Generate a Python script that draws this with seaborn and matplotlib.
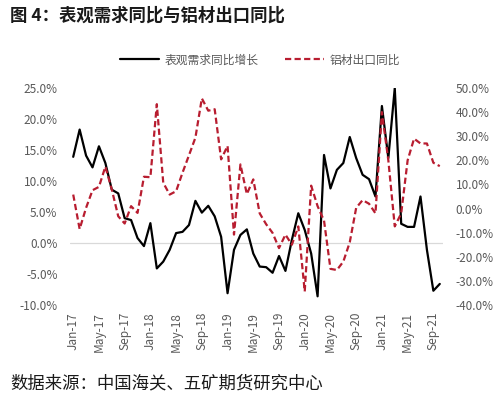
import numpy as np
import pandas as pd
import matplotlib
matplotlib.use("Agg")
import matplotlib.pyplot as plt
import seaborn as sns
from matplotlib.ticker import FuncFormatter, FixedLocator

# 月份：2017年1月 - 2021年10月
months = pd.date_range("2017-01-01", "2021-10-01", freq="MS").strftime("%b-%y").tolist()

# 表观需求同比增长 (%)，左轴
demand_yoy = [13.9, 18.3, 14.1, 12.2, 15.6, 12.9, 8.6, 8.0, 4.0, 3.7,
              0.8, -0.5, 3.2, -4.1, -3.0, -1.1, 1.6, 1.8, 2.9, 6.8,
              4.9, 6.0, 4.3, 1.0, -8.1, -1.1, 1.3, 2.2, -1.7, -3.8,
              -3.9, -4.8, -2.1, -4.5, 0.5, 4.8, 2.1, -1.7, -8.6, 14.2,
              8.8, 11.8, 12.9, 17.1, 13.7, 11.0, 10.3, 7.5, 22.1, 13.7,
              25.0, 3.1, 2.6, 2.6, 7.5, -1.1, -7.7, -6.6]

# 铝材出口同比 (%)，右轴
export_yoy = [5.8, -8.5, 0.3, 7.6, 9.0, 17.4, 7.9, -3.2, -6.2, 1.0,
              -1.8, 13.2, 13.0, 43.3, 10.7, 5.8, 7.2, 14.9, 22.1, 29.4,
              45.7, 40.6, 41.2, 20.4, 26.0, -10.8, 18.3, 6.0, 12.1, -2.0,
              -6.5, -10.1, -16.4, -10.8, -15.0, -7.4, -34.4, 9.5, 1.0, -5.0,
              -25.0, -25.5, -22.0, -14.0, 0.3, 3.5, 2.0, -2.0, 40.0, 20.0,
              -7.4, -2.0, 20.0, 29.0, 27.0, 27.0, 19.0, 17.6]

left_ticks = [-10, -5, 0, 5, 10, 15, 20, 25]
right_ticks = [-40, -30, -20, -10, 0, 10, 20, 30, 40, 50]

df = pd.DataFrame({"idx": np.arange(len(months)), "month": months,
                   "demand": demand_yoy, "export": export_yoy})

sns.set_theme(style="white")
plt.rcParams["font.family"] = ["Noto Sans CJK SC", "DejaVu Sans"]
plt.rcParams["axes.unicode_minus"] = False

grey = "#595959"
red = "#B81D30"

fig = plt.figure(figsize=(5.0, 3.99), dpi=100)
ax = fig.add_axes([0.14, 0.2356, 0.746, 0.5438])
ax2 = ax.twinx()

sns.lineplot(data=df, x="idx", y="demand", ax=ax, color="black", linewidth=1.6,
             label="表观需求同比增长", legend=False)
sns.lineplot(data=df, x="idx", y="export", ax=ax2, color=red, linewidth=1.6,
             linestyle=(0, (2.8, 1.5)), label="铝材出口同比", legend=False)

ax.set_xlim(-0.5, len(months) - 0.5)
ax.set_ylim(-10, 25)
ax2.set_ylim(-40, 50)
ax.yaxis.set_major_locator(FixedLocator(left_ticks))
ax2.yaxis.set_major_locator(FixedLocator(right_ticks))
ax.yaxis.set_major_formatter(FuncFormatter(lambda v, p: f"{v:.1f}%"))
ax2.yaxis.set_major_formatter(FuncFormatter(lambda v, p: f"{v:.1f}%"))

ax.set_xticks(df["idx"][::4])
ax.set_xticklabels(df["month"][::4], rotation=90)

ax.axhline(0, color="#D9D9D9", linewidth=0.9, zorder=0)

for a in (ax, ax2):
    for s in a.spines.values():
        s.set_visible(False)
    a.set_xlabel("")
    a.set_ylabel("")
    a.tick_params(length=0, labelsize=8.5, colors=grey)
    a.grid(False)
ax.tick_params(axis="y", pad=9)
ax2.tick_params(axis="y", pad=9)
ax.tick_params(axis="x", pad=5)

h1, l1 = ax.get_legend_handles_labels()
h2, l2 = ax2.get_legend_handles_labels()
fig.legend(h1 + h2, l1 + l2, loc="center", bbox_to_anchor=(0.52, 0.85), ncol=2,
           frameon=False, fontsize=8.5, labelcolor=grey, handlelength=3.3,
           columnspacing=2.2, handletextpad=0.5)

fig.text(0.02, 0.962, "图 4：表观需求同比与铝材出口同比", fontsize=12.5,
         fontweight="bold", va="center", ha="left", color="#1a1a1a")
fig.text(0.02, 0.04, "数据来源：中国海关、五矿期货研究中心", fontsize=12.5,
         va="center", ha="left", color="#1a1a1a")

fig.savefig("out.png", dpi=100)
